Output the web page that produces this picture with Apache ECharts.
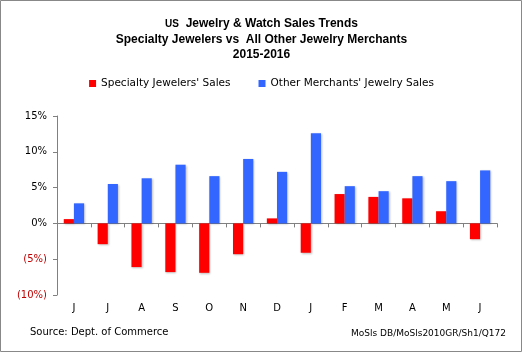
<!DOCTYPE html>
<html>
<head>
<meta charset="utf-8">
<script src="https://cdn.jsdelivr.net/npm/echarts@6/dist/echarts.min.js"></script>
<style>
  html, body { margin: 0; padding: 0; background: #fff; }
  #chart { width: 523px; height: 353px; }
</style>
</head>
<body>
<div id="chart"></div>
<script>
// months Jun 2015 .. Jun 2016
const months = ['J', 'J', 'A', 'S', 'O', 'N', 'D', 'J', 'F', 'M', 'A', 'M', 'J'];
const specialtySales = [0.6, -2.9, -6.1, -6.8, -6.9, -4.3, 0.7, -4.1, 4.1, 3.7, 3.5, 1.7, -2.2];
const otherSales = [2.8, 5.5, 6.3, 8.2, 6.6, 9.0, 7.2, 12.6, 5.2, 4.5, 6.6, 5.9, 7.4];

const labelFont = 'Tahoma, "DejaVu Sans", sans-serif';

const chart = echarts.init(document.getElementById('chart'));

const barShadow = {
  shadowBlur: 2,
  shadowColor: 'rgba(0,0,0,0.25)',
  shadowOffsetX: 1,
  shadowOffsetY: 1
};

chart.setOption({
  animation: false,
  backgroundColor: '#fff',
  title: {
    text: '{s|US}  Jewelry & Watch Sales Trends\nSpecialty Jewelers vs  All Other Jewelry Merchants\n2015-2016',
    left: 'center',
    top: 11,
    textStyle: {
      fontFamily: 'Arial, "Liberation Sans", sans-serif',
      fontSize: 12,
      fontWeight: 'bold',
      lineHeight: 15.5,
      color: '#000',
      rich: {
        s: { fontFamily: 'Arial, "Liberation Sans", sans-serif', fontSize: 10, fontWeight: 'bold', color: '#000' }
      }
    }
  },
  legend: {
    top: 73,
    left: 'center',
    itemWidth: 7,
    itemHeight: 7,
    itemGap: 28,
    icon: 'rect',
    textStyle: { fontFamily: labelFont, fontSize: 10.5, color: '#000' },
    data: ["Specialty Jewelers' Sales", "Other Merchants' Jewelry Sales"]
  },
  grid: { left: 57, right: 26, top: 116, bottom: 58 },
  xAxis: {
    type: 'category',
    data: months,
    axisLine: { onZero: true, lineStyle: { color: '#808080' } },
    axisTick: { show: true, length: 4, inside: false, lineStyle: { color: '#808080' } },
    axisLabel: {
      show: false
    }
  },
  yAxis: {
    type: 'value',
    min: -10,
    max: 15,
    interval: 5,
    splitLine: { show: false },
    axisLine: { show: true, lineStyle: { color: '#808080' } },
    axisTick: { show: true, length: 4, lineStyle: { color: '#808080' } },
    axisLabel: {
      margin: 10,
      fontFamily: labelFont,
      fontSize: 10,
      formatter: function (v) {
        return v < 0 ? '{neg|(' + (-v) + '%)}' : v + '%';
      },
      color: '#000',
      rich: {
        neg: { color: '#c00000', fontFamily: labelFont, fontSize: 10 }
      }
    }
  },
  series: [
    {
      name: "Specialty Jewelers' Sales",
      type: 'bar',
      data: specialtySales,
      barGap: '0%',
      barCategoryGap: '40%',
      itemStyle: Object.assign({ color: '#ff0000' }, barShadow)
    },
    {
      name: "Other Merchants' Jewelry Sales",
      type: 'bar',
      data: otherSales,
      itemStyle: Object.assign({ color: '#3366ff' }, barShadow)
    },
    {
      // month letters along the bottom of the plot
      type: 'custom',
      silent: true,
      data: months.map((m, i) => [i, -10]),
      renderItem: function (params, api) {
        const p = api.coord([api.value(0), api.value(1)]);
        return {
          type: 'text',
          style: {
            text: months[params.dataIndex],
            x: p[0],
            y: p[1] + 13,
            align: 'center',
            verticalAlign: 'middle',
            font: '10px ' + labelFont,
            fill: '#000'
          }
        };
      }
    }
  ],
  graphic: [
    {
      type: 'rect',
      shape: { x: 0.5, y: 0.5, width: 521, height: 351 },
      style: { fill: 'none', stroke: '#888', lineWidth: 1 }
    },
    {
      type: 'text',
      left: 30,
      top: 327,
      style: { text: 'Source: Dept. of Commerce', font: '10px ' + labelFont, fill: '#000' }
    },
    {
      type: 'text',
      right: 17,
      top: 329,
      style: { text: 'MoSls DB/MoSls2010GR/Sh1/Q172', font: '9px ' + labelFont, fill: '#000' }
    }
  ]
});
</script>
</body>
</html>
